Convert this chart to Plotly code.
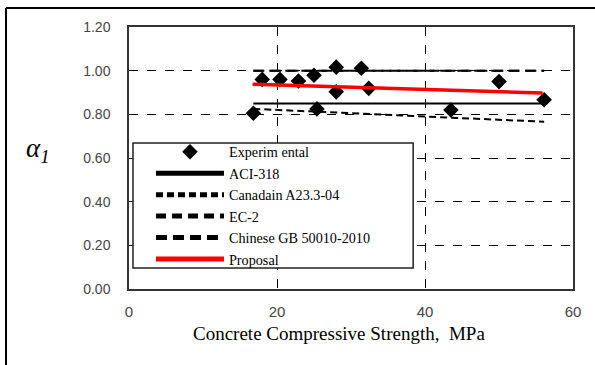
import plotly.graph_objects as go

# Experimental data
exp_fc = [16.8, 18.0, 20.4, 22.9, 25.0, 25.4, 28.0, 28.0, 31.4, 32.4, 43.5, 50.0, 56.1]
exp_a1 = [0.805, 0.96, 0.96, 0.953, 0.979, 0.825, 1.016, 0.903, 1.011, 0.919, 0.82, 0.95, 0.867]

# Code lines (end points)
line_fc = [16.8, 56.1]
aci_a1 = [0.85, 0.85]
can_a1 = [0.825, 0.766]
ec2_a1 = [1.0, 1.0]
gb_a1 = [1.0, 1.0]
prop_fc = [16.7, 55.9]
prop_a1 = [0.938, 0.898]

x_ticks = [0, 20, 40, 60]
y_ticks = [0.0, 0.2, 0.4, 0.6, 0.8, 1.0, 1.2]

fig = go.Figure()
fig.add_trace(go.Scatter(x=exp_fc, y=exp_a1, mode="markers", name="Experim ental",
                         marker=dict(symbol="diamond", size=12, color="black")))
fig.add_trace(go.Scatter(x=line_fc, y=aci_a1, mode="lines", name="ACI-318",
                         line=dict(color="black", width=2)))
fig.add_trace(go.Scatter(x=line_fc, y=can_a1, mode="lines", name="Canadain A23.3-04",
                         line=dict(color="black", width=2, dash="7px,4px")))
fig.add_trace(go.Scatter(x=line_fc, y=ec2_a1, mode="lines", name="EC-2",
                         line=dict(color="black", width=2, dash="10px,6px")))
fig.add_trace(go.Scatter(x=line_fc, y=gb_a1, mode="lines", name="Chinese GB 50010-2010",
                         line=dict(color="black", width=2, dash="11px,6px")))
fig.add_trace(go.Scatter(x=prop_fc, y=prop_a1, mode="lines", name="Proposal",
                         line=dict(color="red", width=3.5)))

fig.update_layout(
    width=595, height=365,
    margin=dict(l=129, r=22, t=27, b=76),
    plot_bgcolor="white", paper_bgcolor="white",
    showlegend=True,
    legend=dict(x=0.0495, y=0.584, xanchor="left", yanchor="top",
                bgcolor="rgba(0,0,0,0)", borderwidth=0,
                font=dict(family="Liberation Serif", size=14.2, color="black"),
                itemwidth=68, itemsizing="constant", tracegroupgap=0,
                traceorder="normal"),
    xaxis=dict(range=[0, 60], tickvals=x_ticks, showgrid=True, griddash="dash",
               gridcolor="black", gridwidth=1, zeroline=False,
               showline=True, linecolor="#333", linewidth=1.5, mirror=True,
               ticks="", ticklabelstandoff=8,
               tickfont=dict(family="Liberation Sans", size=15, color="#444")),
    yaxis=dict(range=[0, 1.2], tickvals=y_ticks, tickformat=".2f", showgrid=True,
               griddash="dash", gridcolor="black", gridwidth=1, zeroline=False,
               showline=True, linecolor="#333", linewidth=1.5, mirror=True,
               ticks="", ticklabelstandoff=14,
               tickfont=dict(family="Liberation Sans", size=14, color="#444")),
)

# legend frame (opaque white box)
fig.add_shape(type="rect", xref="paper", yref="paper", x0=0.009, x1=0.640, y0=0.080, y1=0.557,
              line=dict(color="#222", width=1.5), fillcolor="white", layer="above")

# x-axis title
fig.add_annotation(text="Concrete Compressive Strength,  MPa", xref="paper", yref="paper",
                   x=0.473, y=-0.168, showarrow=False, xanchor="center", yanchor="middle",
                   font=dict(family="Liberation Serif", size=19, color="black"))

# y-axis title (italic alpha with subscript)
fig.add_annotation(text="<i>α<sub>1</sub></i>", xref="paper", yref="paper",
                   x=-0.205, y=0.53, showarrow=False, xanchor="center", yanchor="middle",
                   font=dict(family="Liberation Serif", size=27, color="black"))

# outer frame lines (top and left)
fig.add_shape(type="line", xref="paper", yref="paper", x0=-0.277, x1=1.06, y0=1.0725, y1=1.0725,
              line=dict(color="black", width=2))
fig.add_shape(type="line", xref="paper", yref="paper", x0=-0.277, x1=-0.277, y0=1.0725, y1=-0.3,
              line=dict(color="black", width=2))

fig.write_html("out.html")
